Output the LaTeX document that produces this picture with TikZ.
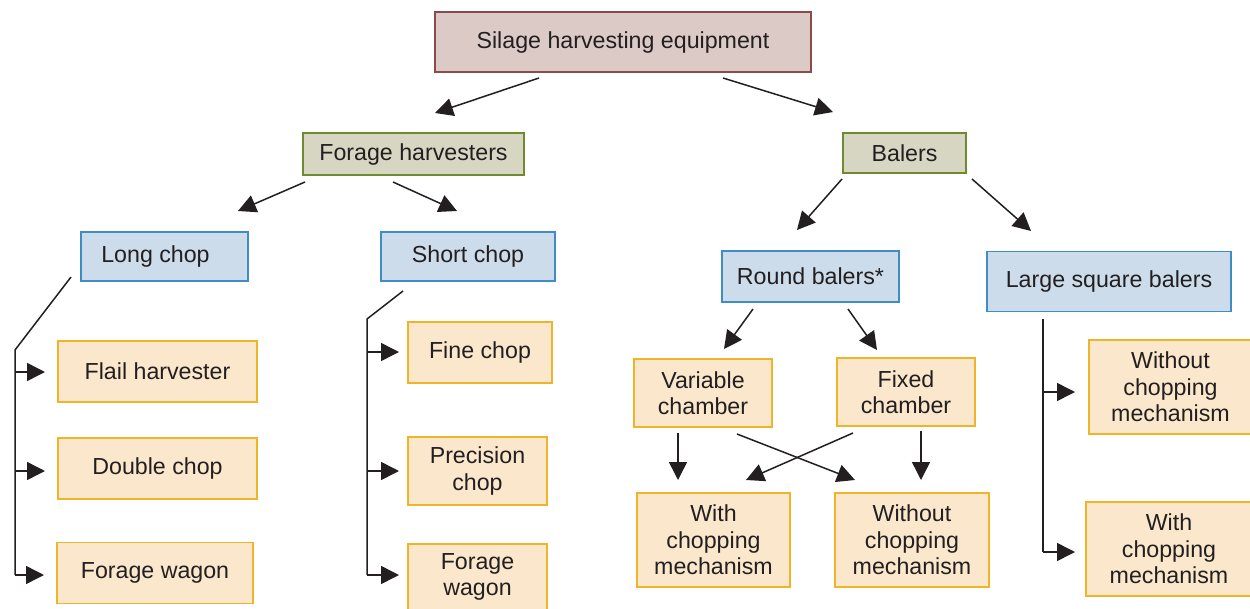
\documentclass[tikz,border=0pt]{standalone}
\usepackage{fontspec}
\setmainfont{Liberation Sans}
\usetikzlibrary{arrows.meta}
\definecolor{txt}{HTML}{231F20}
\definecolor{topfill}{HTML}{DCCAC6}
\definecolor{topdraw}{HTML}{8B4B4B}
\definecolor{grnfill}{HTML}{D7D6C3}
\definecolor{grndraw}{HTML}{6E8B2E}
\definecolor{blufill}{HTML}{CCDCEA}
\definecolor{bludraw}{HTML}{3F8DC3}
\definecolor{orgfill}{HTML}{FBE8CC}
\definecolor{orgdraw}{HTML}{F0B429}
\begin{document}
\begin{tikzpicture}[x=1pt,y=-1pt,
  font=\fontsize{23.2}{26.5}\selectfont,
  bx/.style={draw, line width=1.4pt, inner sep=0pt, align=center, text=txt},
  topbox/.style={bx, fill=topfill, draw=topdraw},
  grnbox/.style={bx, fill=grnfill, draw=grndraw},
  blubox/.style={bx, fill=blufill, draw=bludraw},
  orgbox/.style={bx, fill=orgfill, draw=orgdraw},
  arr/.style={-{Triangle[length=18pt,width=18pt]}, line width=1.5pt, draw=txt},
  ln/.style={line width=1.5pt, draw=txt}]
\useasboundingbox (0,0) rectangle (1250,608);
% boxes
\node[topbox, minimum width=376, minimum height=60] (top) at (623,42) {Silage harvesting equipment};
\node[grnbox, minimum width=221, minimum height=42] (fh) at (413.5,154) {Forage harvesters};
\node[grnbox, minimum width=123, minimum height=40] (bal) at (904.5,153) {Balers};
\node[blubox, minimum width=167, minimum height=49] (long) at (164.5,256.5) {Long chop\hspace*{18pt}};
\node[blubox, minimum width=174, minimum height=49] (short) at (468,256.5) {Short chop};
\node[blubox, minimum width=177, minimum height=51] (round) at (810.5,276.5) {Round balers*};
\node[blubox, minimum width=244, minimum height=60] (large) at (1109,281.5) {Large square balers};
\node[orgbox, minimum width=199, minimum height=61] (flail) at (157.5,371.5) {Flail harvester};
\node[orgbox, minimum width=199, minimum height=61] (double) at (157.5,468.5) {Double chop};
\node[orgbox, minimum width=196, minimum height=61] (fwl) at (155,573) {Forage wagon};
\node[orgbox, minimum width=144, minimum height=61] (fine) at (480,352.5) {Fine chop};
\node[orgbox, minimum width=139, minimum height=68] (prec) at (477.5,471) {Precision\\chop};
\node[orgbox, minimum width=139, minimum height=66] (fwr) at (477.5,577) {Forage\\wagon};
\node[orgbox, minimum width=138, minimum height=68] (var) at (703,393) {Variable\\chamber};
\node[orgbox, minimum width=138, minimum height=68] (fix) at (906,392) {Fixed\\chamber};
\node[orgbox, minimum width=153, minimum height=94] (with) at (713.5,540) {With\\chopping\\mechanism};
\node[orgbox, minimum width=154, minimum height=94] (without) at (912,540) {Without\\chopping\\mechanism};
\node[orgbox, minimum width=163, minimum height=94] (rwithout) at (1170.5,387) {Without\\chopping\\mechanism};
\node[orgbox, minimum width=166, minimum height=94] (rwith) at (1169,549) {With\\chopping\\mechanism};
% connector points
\coordinate (t1) at (539,78);   \coordinate (t2) at (723,78);
\coordinate (fhA) at (435,113); \coordinate (balA) at (833,112);
\coordinate (f1) at (305,182);  \coordinate (f2) at (393,182);
\coordinate (longA) at (238,211); \coordinate (shortA) at (457,211);
\coordinate (b1) at (842,179);  \coordinate (b2) at (972,179);
\coordinate (roundA) at (797,230); \coordinate (largeA) at (1031,231);
\coordinate (r1) at (753,309);  \coordinate (r2) at (848,309);
\coordinate (varA) at (724,349); \coordinate (fixA) at (877,350);
% long chop bracket
\coordinate (l0) at (71,277); \coordinate (l1) at (15,350); \coordinate (l2) at (15,575);
\coordinate (l3) at (15,372); \coordinate (l4) at (15,471);
\coordinate (flailA) at (45,372); \coordinate (doubleA) at (45,471); \coordinate (fwlA) at (44,575);
% short chop bracket
\coordinate (s0) at (403,291); \coordinate (s1) at (367,319); \coordinate (s2) at (367,575);
\coordinate (s3) at (367,352); \coordinate (s4) at (367,471);
\coordinate (fineA) at (399,352); \coordinate (precA) at (399,471); \coordinate (fwrA) at (399,575);
% chambers
\coordinate (v1) at (678,433); \coordinate (v2) at (737,434);
\coordinate (x1) at (853,433); \coordinate (x2) at (921,431);
\coordinate (withA) at (678,480); \coordinate (withB) at (746,480);
\coordinate (withoutA) at (855,480); \coordinate (withoutB) at (921,480);
% large square bracket
\coordinate (q0) at (1043,319); \coordinate (q1) at (1043,552); \coordinate (q2) at (1043,392);
\coordinate (rwithoutA) at (1075,392); \coordinate (rwithA) at (1075,552);
% connectors
\draw[arr] (t1) -- (fhA);
\draw[arr] (t2) -- (balA);
\draw[arr] (f1) -- (longA);
\draw[arr] (f2) -- (shortA);
\draw[arr] (b1) -- (roundA);
\draw[arr] (b2) -- (largeA);
\draw[arr] (r1) -- (varA);
\draw[arr] (r2) -- (fixA);
\draw[ln] (l0) -- (l1) -- (l2);
\draw[arr] (l3) -- (flailA);
\draw[arr] (l4) -- (doubleA);
\draw[arr] (l2) -- (fwlA);
\draw[ln] (s0) -- (s1) -- (s2);
\draw[arr] (s3) -- (fineA);
\draw[arr] (s4) -- (precA);
\draw[arr] (s2) -- (fwrA);
\draw[arr] (v1) -- (withA);
\draw[arr] (v2) -- (withoutA);
\draw[arr] (x1) -- (withB);
\draw[arr] (x2) -- (withoutB);
\draw[ln] (q0) -- (q1);
\draw[arr] (q2) -- (rwithoutA);
\draw[arr] (q1) -- (rwithA);
\end{tikzpicture}
\end{document}
